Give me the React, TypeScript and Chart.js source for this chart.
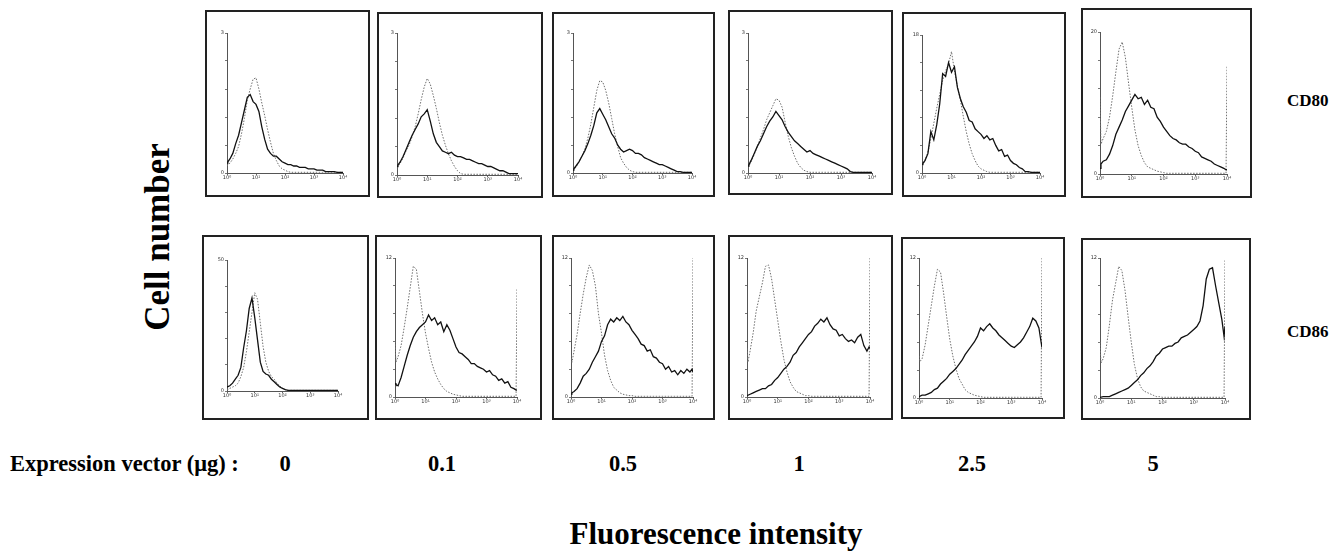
import React, { useEffect, useRef } from "react";
import { Chart, registerables } from "chart.js";

Chart.register(...registerables);

// log10 fluorescence channel positions (decades, 10^0 .. 10^4)
const LOG_X = [0, 0.03,
  0.1, 0.2, 0.3, 0.4, 0.5, 0.6, 0.7, 0.8, 0.9, 1.0,
  1.1, 1.2, 1.3, 1.4, 1.5, 1.6, 1.7, 1.8, 1.9, 2.0,
  2.1, 2.2, 2.3, 2.4, 2.5, 2.6, 2.7, 2.8, 2.9, 3.0,
  3.1, 3.2, 3.3, 3.4, 3.5, 3.6, 3.7, 3.8, 3.9,
  3.97, 4];

const X_TICKS = ["10\u2070", "10\u00b9", "10\u00b2", "10\u00b3", "10\u2074"];

const DOSES = ["0", "0.1", "0.5", "1", "2.5", "5"];
const MARKERS = ["CD80", "CD86"];
const Y_TOP_CD80 = ["3", "3", "3", "3", "18", "20"];
const Y_TOP_CD86 = ["50", "12", "12", "12", "12", "12"];

// ---- CD80 (row 1): dotted = control, solid = expression vector ----
const CD80_ISO_D0 = [5, 6,
  7, 10, 14, 19, 28, 39, 52, 60, 67, 68,
  60, 50, 41, 31, 22, 14, 9, 5, 3, 2,
  1, 0.5, 0.5, 0.5, 0.5, 0.5, 0.5, 0.5, 0.5, 0.5,
  0.5, 0.5, 0.5, 0.5, 0.5, 0.5, 0.5, 0.5, 0.5,
  0.5, 0.5];
const CD80_EXP_D0 = [7, 8,
  10, 14, 21, 27, 36, 45, 54, 56, 51, 49,
  44, 33, 24, 17, 14, 12, 12, 10, 8, 7,
  6, 6, 5, 5, 4, 4, 4, 3, 3, 3,
  2, 2, 2, 1, 1, 1, 1, 0.5, 0.5,
  0.5, 0.5];
const CD80_ISO_D01 = [5, 6,
  8, 12, 17, 21, 27, 34, 43, 53, 62, 68,
  64, 56, 47, 37, 28, 21, 15, 10, 6, 3,
  1, 0.5, 0.5, 0.5, 0.5, 0.5, 0.5, 0.5, 0.5, 0.5,
  0.5, 0.5, 0.5, 0.5, 0.5, 0.5, 0.5, 0.5, 0.5,
  0.5, 0.5];
const CD80_EXP_D01 = [6, 7,
  9, 13, 18, 23, 28, 32, 36, 41, 43, 46,
  38, 29, 23, 20, 17, 16, 15, 16, 14, 13,
  13, 12, 11, 11, 10, 9, 8, 8, 7, 6,
  6, 5, 4, 3, 3, 2, 1, 1, 1,
  1, 1];
const CD80_ISO_D05 = [2, 3,
  4, 8, 12, 17, 25, 35, 47, 59, 66, 65,
  59, 50, 39, 28, 19, 11, 7, 4, 2, 1,
  0.5, 0.5, 0.5, 0.5, 0.5, 0.5, 0.5, 0.5, 0.5, 0.5,
  0.5, 0.5, 0.5, 0.5, 0.5, 0.5, 0.5, 0.5, 0.5,
  0.5, 0.5];
const CD80_EXP_D05 = [2, 3,
  5, 8, 12, 16, 21, 27, 34, 43, 46, 42,
  38, 33, 28, 25, 20, 17, 15, 16, 17, 16,
  14, 14, 13, 11, 10, 9, 8, 7, 6, 6,
  5, 4, 3, 2, 1, 1, 0.5, 0.5, 0.5,
  0.5, 0.5];
const CD80_ISO_D1 = [4, 5,
  8, 13, 19, 25, 31, 38, 43, 48, 53, 52,
  47, 36, 26, 18, 12, 7, 4, 2, 1, 0.5,
  0.5, 0.5, 0.5, 0.5, 0.5, 0.5, 0.5, 0.5, 0.5, 0.5,
  0.5, 0.5, 0.5, 0.5, 0.5, 0.5, 0.5, 0.5, 0.5,
  0.5, 0.5];
const CD80_EXP_D1 = [5, 6,
  9, 14, 19, 23, 28, 33, 37, 40, 44, 41,
  38, 33, 29, 26, 23, 21, 19, 17, 15, 16,
  14, 13, 12, 11, 10, 9, 8, 7, 6, 5,
  4, 3, 1, 0.5, 0.5, 0.5, 0.5, 0.5, 0.5,
  0.5, 0.5];
const CD80_ISO_D25 = [5, 6,
  9, 15, 25, 36, 47, 57, 67, 74, 79, 88,
  74, 63, 53, 41, 30, 21, 14, 9, 5, 3,
  2, 1, 0.5, 0.5, 0.5, 0.5, 0.5, 0.5, 0.5, 0.5,
  0.5, 0.5, 0.5, 0.5, 0.5, 0.5, 0.5, 0.5, 0.5,
  0.5, 0.5];
const CD80_EXP_D25 = [6, 7,
  9, 14, 30, 24, 35, 50, 72, 70, 80, 73,
  77, 62, 54, 48, 44, 38, 37, 32, 30, 28,
  25, 27, 24, 25, 20, 16, 17, 12, 13, 9,
  7, 6, 4, 3, 1, 1, 0.5, 0.5, 0.5,
  0.5, 0.5];
const CD80_ISO_D5 = [54, 21,
  25, 30, 40, 55, 72, 88, 93, 82, 64, 47,
  31, 20, 13, 8, 5, 4, 3, 2, 1.5, 1,
  0.5, 0.5, 0.5, 0.5, 0.5, 0.5, 0.5, 0.5, 0.5, 0.5,
  0.5, 0.5, 0.5, 0.5, 0.5, 0.5, 0.5, 0.5, 0.5,
  0.5, 76];
const CD80_EXP_D5 = [4, 7,
  9, 10, 14, 20, 28, 33, 38, 44, 48, 52,
  56, 53, 54, 49, 52, 47, 46, 40, 37, 33,
  30, 27, 25, 24, 22, 21, 21, 19, 18, 16,
  15, 12, 11, 10, 9, 7, 6, 5, 4,
  3, 3];

// ---- CD86 (row 2) ----
const CD86_ISO_D0 = [1, 1,
  2, 3, 4, 6, 11, 18, 30, 45, 60, 75,
  70, 52, 34, 22, 15, 11, 9, 6, 4, 2,
  1, 0.5, 0.5, 0.5, 0.5, 0.5, 0.5, 0.5, 0.5, 0.5,
  0.5, 0.5, 0.5, 0.5, 0.5, 0.5, 0.5, 0.5, 0.5,
  0.5, 0.5];
const CD86_EXP_D0 = [3, 3,
  4, 6, 9, 12, 18, 33, 46, 63, 71, 56,
  39, 22, 15, 13, 12, 9, 7, 5, 3, 2,
  1, 0.5, 0.5, 0.5, 0.5, 0.5, 0.5, 0.5, 0.5, 0.5,
  0.5, 0.5, 0.5, 0.5, 0.5, 0.5, 0.5, 0.5, 0.5,
  0.5, 0.5];
const CD86_ISO_D01 = [40, 25,
  29, 37, 50, 64, 79, 94, 92, 76, 60, 46,
  35, 25, 18, 13, 9, 6, 4, 3, 2, 1.5,
  1, 0.5, 0.5, 0.5, 0.5, 0.5, 0.5, 0.5, 0.5, 0.5,
  0.5, 0.5, 0.5, 0.5, 0.5, 0.5, 0.5, 0.5, 0.5,
  0.5, 78];
const CD86_EXP_D01 = [10, 9,
  8, 14, 22, 30, 37, 43, 47, 50, 52, 54,
  59, 55, 57, 52, 54, 47, 52, 48, 42, 36,
  32, 31, 29, 27, 24, 24, 22, 21, 20, 18,
  19, 16, 15, 12, 13, 10, 11, 7, 6,
  5, 5];
const CD86_ISO_D05 = [30, 25,
  33, 45, 60, 74, 86, 95, 91, 80, 60, 46,
  30, 19, 12, 7, 5, 3, 2, 1.5, 1, 1,
  0.5, 0.5, 0.5, 0.5, 0.5, 0.5, 0.5, 0.5, 0.5, 0.5,
  0.5, 0.5, 0.5, 0.5, 0.5, 0.5, 0.5, 0.5, 0.5,
  0.5, 100];
const CD86_EXP_D05 = [2, 3,
  4, 6, 10, 15, 17, 20, 25, 29, 33, 40,
  44, 52, 56, 54, 57, 55, 58, 54, 52, 48,
  45, 42, 38, 37, 33, 34, 29, 28, 25, 24,
  20, 22, 18, 19, 16, 19, 17, 20, 18,
  20, 18];
const CD86_ISO_D1 = [35, 25,
  33, 46, 62, 72, 82, 94, 95, 85, 70, 55,
  40, 27, 18, 11, 7, 4, 3, 2, 1, 1,
  0.5, 0.5, 0.5, 0.5, 0.5, 0.5, 0.5, 0.5, 0.5, 0.5,
  0.5, 0.5, 0.5, 0.5, 0.5, 0.5, 0.5, 0.5, 0.5,
  0.5, 100];
const CD86_EXP_D1 = [1, 1,
  2, 3, 4, 5, 6, 6, 8, 9, 12, 14,
  17, 20, 22, 25, 30, 32, 36, 39, 42, 45,
  47, 51, 53, 56, 54, 57, 52, 49, 48, 44,
  45, 42, 40, 41, 39, 43, 45, 37, 33,
  36, 35];
const CD86_ISO_D25 = [30, 26,
  28, 38, 52, 66, 80, 92, 90, 75, 58, 42,
  30, 21, 14, 10, 6, 4, 3, 2, 1.5, 1,
  0.5, 0.5, 0.5, 0.5, 0.5, 0.5, 0.5, 0.5, 0.5, 0.5,
  0.5, 0.5, 0.5, 0.5, 0.5, 0.5, 0.5, 0.5, 0.5,
  0.5, 100];
const CD86_EXP_D25 = [1, 1,
  2, 2, 3, 4, 6, 7, 10, 12, 14, 17,
  19, 21, 24, 27, 31, 34, 37, 40, 44, 50,
  48, 51, 53, 50, 48, 45, 43, 41, 39, 37,
  36, 38, 40, 43, 47, 51, 57, 55, 50,
  40, 36];
const CD86_ISO_D5 = [40, 25,
  28, 36, 52, 70, 82, 94, 91, 77, 58, 40,
  24, 14, 8, 5, 4, 3, 2, 1, 1, 0.5,
  0.5, 0.5, 0.5, 0.5, 0.5, 0.5, 0.5, 0.5, 0.5, 0.5,
  0.5, 0.5, 0.5, 0.5, 0.5, 0.5, 0.5, 0.5, 0.5,
  0.5, 99];
const CD86_EXP_D5 = [0.5, 0.5,
  1, 1, 1, 2, 3, 4, 5, 6, 7, 9,
  11, 13, 16, 18, 21, 23, 26, 30, 32, 35,
  36, 37, 37, 39, 40, 43, 44, 45, 47, 49,
  51, 55, 66, 85, 92, 93, 80, 68, 56,
  44, 51];

const CD80_ISO = [CD80_ISO_D0, CD80_ISO_D01, CD80_ISO_D05, CD80_ISO_D1, CD80_ISO_D25, CD80_ISO_D5];
const CD80_EXP = [CD80_EXP_D0, CD80_EXP_D01, CD80_EXP_D05, CD80_EXP_D1, CD80_EXP_D25, CD80_EXP_D5];
const CD86_ISO = [CD86_ISO_D0, CD86_ISO_D01, CD86_ISO_D05, CD86_ISO_D1, CD86_ISO_D25, CD86_ISO_D5];
const CD86_EXP = [CD86_EXP_D0, CD86_EXP_D01, CD86_EXP_D05, CD86_EXP_D1, CD86_EXP_D25, CD86_EXP_D5];

// ---- layout (page pixels) ----
const FRAMES_ROW1 = [[205, 10, 165, 187], [377, 12, 166, 186], [552, 12, 163, 185], [728, 10, 165, 185], [902, 12, 164, 185], [1081, 8, 171, 190]];
const PLOTS_ROW1 = [[227, 33, 343, 173], [397, 33, 518, 175], [573, 33, 692, 173], [748, 33, 872, 173], [922, 35, 1040, 173], [1100, 32, 1227, 174]];
const FRAMES_ROW2 = [[202, 235, 167, 185], [375, 235, 167, 185], [552, 235, 163, 185], [728, 235, 165, 185], [901, 237, 164, 182], [1081, 238, 170, 182]];
const PLOTS_ROW2 = [[227, 260, 338, 391], [395, 258, 517, 397], [571, 258, 693, 397], [747, 258, 870, 397], [919, 258, 1042, 398], [1100, 258, 1225, 398]];
const DOSE_X = [285, 442, 623, 799, 972, 1153];

const SERIF = '"Liberation Serif", "Times New Roman", serif';

type PanelProps = {
  frame: number[];
  plot: number[];
  iso: number[];
  exp: number[];
  yTop: string;
};

function Panel({ frame, plot, iso, exp, yTop }: PanelProps) {
  const ref = useRef<HTMLCanvasElement>(null);
  const [fl, ft, fw, fh] = frame;
  useEffect(() => {
    const [pl, pt, pr, pb] = plot;
    const B = 2;
    const WY = 9;
    const HX = 10;
    const chart = new Chart(ref.current as HTMLCanvasElement, {
      type: "line",
      data: {
        datasets: [
          {
            data: LOG_X.map((x, i) => ({ x, y: exp[i] })),
            borderColor: "#111",
            borderWidth: 1.3,
            pointRadius: 0,
            tension: 0,
            fill: false,
          },
          {
            data: LOG_X.map((x, i) => ({ x, y: iso[i] })),
            borderColor: "#6e6e6e",
            borderWidth: 1,
            borderDash: [1.5, 1.5],
            pointRadius: 0,
            tension: 0,
            fill: false,
          },
        ],
      },
      options: {
        animation: false,
        responsive: true,
        maintainAspectRatio: false,
        events: [],
        layout: {
          padding: {
            left: pl - (fl + B) - WY,
            top: pt - (ft + B),
            right: fl + fw - B - pr,
            bottom: ft + fh - B - pb - HX,
          },
        },
        plugins: { legend: { display: false }, tooltip: { enabled: false } },
        scales: {
          x: {
            type: "linear",
            min: 0,
            max: 4,
            afterFit: (s: any) => {
              s.height = HX;
            },
            grid: { drawOnChartArea: false, drawTicks: true, tickLength: 2, color: "#666" },
            border: { color: "#555", width: 1 },
            ticks: {
              stepSize: 1,
              autoSkip: false,
              maxRotation: 0,
              minRotation: 0,
              padding: 0,
              color: "#333",
              font: { size: 5, family: "DejaVu Sans" },
              callback: (v: any) => X_TICKS[Math.round(Number(v))],
            },
          },
          y: {
            min: 0,
            max: 100,
            afterFit: (s: any) => {
              s.width = WY;
            },
            grid: { drawOnChartArea: false, drawTicks: true, tickLength: 2, color: "#777" },
            border: { color: "#555", width: 1 },
            ticks: {
              stepSize: 20,
              padding: 1,
              color: "#333",
              font: { size: 5, family: "DejaVu Sans" },
              callback: (v: any) => (v === 100 ? yTop : v === 0 ? "0" : ""),
            },
          },
        },
      },
    } as any);
    return () => chart.destroy();
  }, []);
  return (
    <div
      style={{
        position: "absolute",
        left: fl,
        top: ft,
        width: fw,
        height: fh,
        border: "2px solid #222",
        boxSizing: "border-box",
        background: "#fff",
      }}
    >
      <div style={{ position: "relative", width: fw - 4, height: fh - 4 }}>
        <canvas ref={ref} />
      </div>
    </div>
  );
}

export default function App() {
  const boldText: React.CSSProperties = {
    position: "absolute",
    fontFamily: SERIF,
    fontWeight: "bold",
    whiteSpace: "nowrap",
    color: "#000",
  };
  return (
    <div style={{ position: "absolute", left: 0, top: 0, width: 1330, height: 552, background: "#fff", overflow: "hidden" }}>
      {DOSES.map((d, i) => (
        <Panel key={"r1" + d} frame={FRAMES_ROW1[i]} plot={PLOTS_ROW1[i]} iso={CD80_ISO[i]} exp={CD80_EXP[i]} yTop={Y_TOP_CD80[i]} />
      ))}
      {DOSES.map((d, i) => (
        <Panel key={"r2" + d} frame={FRAMES_ROW2[i]} plot={PLOTS_ROW2[i]} iso={CD86_ISO[i]} exp={CD86_EXP[i]} yTop={Y_TOP_CD86[i]} />
      ))}
      <div
        style={{
          ...boldText,
          left: 157,
          top: 237,
          fontSize: 35,
          lineHeight: "35px",
          transform: "translate(-50%, -50%) rotate(-90deg)",
        }}
      >
        Cell number
      </div>
      <div style={{ ...boldText, left: 1287, top: 100, fontSize: 17, lineHeight: "17px", transform: "translateY(-50%)" }}>
        {MARKERS[0]}
      </div>
      <div style={{ ...boldText, left: 1287, top: 331, fontSize: 17, lineHeight: "17px", transform: "translateY(-50%)" }}>
        {MARKERS[1]}
      </div>
      <div style={{ ...boldText, left: 10, top: 453, fontSize: 22.5, lineHeight: "22px" }}>
        Expression vector (μg) :
      </div>
      {DOSES.map((d, i) => (
        <div
          key={"d" + d}
          style={{ ...boldText, left: DOSE_X[i], top: 453, fontSize: 22.5, lineHeight: "22px", transform: "translateX(-50%)" }}
        >
          {d}
        </div>
      ))}
      <div style={{ ...boldText, left: 716, top: 518, fontSize: 31, lineHeight: "31px", transform: "translateX(-50%)" }}>
        Fluorescence intensity
      </div>
    </div>
  );
}
